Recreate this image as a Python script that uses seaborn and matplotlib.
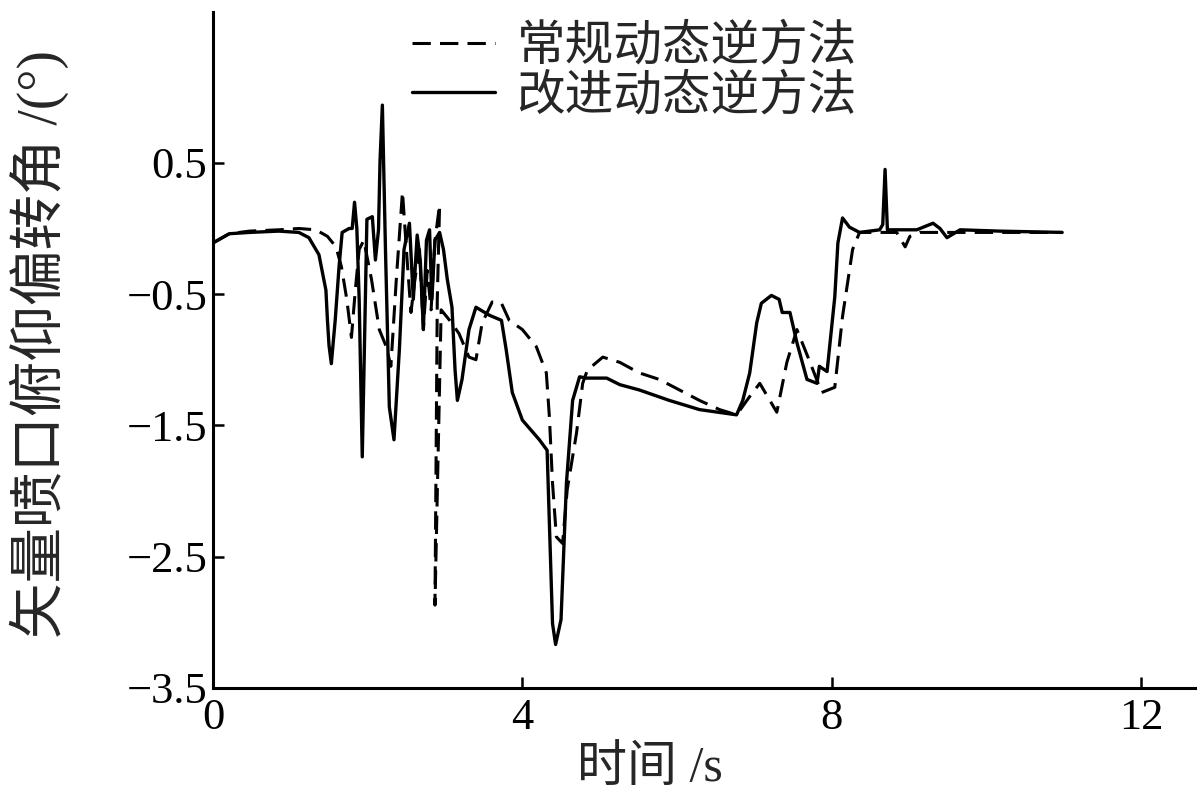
import matplotlib
matplotlib.use('Agg')
from matplotlib import pyplot as plt
import seaborn as sns
import pandas as pd

# time (s) and nozzle pitch deflection angle (deg)
# conventional dynamic inversion (dashed)
t_conv = [0.00, 0.21, 0.47, 0.85, 1.11, 1.33, 1.48, 1.59, 1.66, 1.73,
          1.79, 1.84, 1.89, 1.95, 2.05, 2.15, 2.24, 2.30, 2.37, 2.45,
          2.51, 2.56, 2.61, 2.67, 2.72, 2.77, 2.82, 2.87, 2.93, 2.90,
          2.87, 2.95, 3.06, 3.18, 3.31, 3.40, 3.48, 3.61, 3.73, 3.83,
          4.00, 4.18, 4.31, 4.35, 4.39, 4.44, 4.52, 4.58, 4.70, 4.78,
          4.84, 5.04, 5.26, 5.51, 5.77, 6.29, 6.55, 6.77, 6.94, 7.07,
          7.29, 7.42, 7.55, 7.72, 7.87, 8.04, 8.14, 8.27, 8.36, 8.84,
          8.95, 9.01, 9.14, 10.17, 10.98]
a_conv = [-0.11, -0.04, -0.02, -0.01, 0.00, -0.01, -0.06, -0.14, -0.29, -0.54,
          -0.83, -0.47, -0.16, -0.09, -0.39, -0.77, -0.90, -1.05, -0.39, 0.28,
          -0.24, -0.64, -0.39, -0.16, -0.77, -0.32, -0.62, -0.09, 0.18, -0.54,
          -2.87, -0.62, -0.70, -0.80, -0.98, -1.00, -0.72, -0.56, -0.57, -0.70,
          -0.77, -0.90, -1.10, -1.44, -1.94, -2.35, -2.40, -1.99, -1.56, -1.18,
          -1.08, -0.98, -1.02, -1.10, -1.15, -1.31, -1.38, -1.42, -1.28, -1.18,
          -1.40, -1.02, -0.77, -1.02, -1.25, -1.21, -0.67, -0.16, -0.03, -0.03,
          -0.14, -0.06, -0.03, -0.03, -0.03]

# improved dynamic inversion (solid)
t_impr = [0.00, 0.21, 0.47, 0.85, 1.11, 1.24, 1.37, 1.46, 1.48, 1.50,
          1.53, 1.58, 1.63, 1.67, 1.76, 1.80, 1.83, 1.86, 1.89, 1.93,
          1.97, 1.99, 2.06, 2.10, 2.14, 2.16, 2.19, 2.23, 2.28, 2.34,
          2.41, 2.47, 2.54, 2.59, 2.64, 2.68, 2.72, 2.76, 2.80, 2.83,
          2.87, 2.93, 2.98, 3.03, 3.09, 3.13, 3.16, 3.22, 3.31, 3.40,
          3.57, 3.73, 3.79, 3.87, 4.00, 4.22, 4.32, 4.39, 4.43, 4.50,
          4.57, 4.65, 4.74, 4.83, 5.09, 5.26, 5.51, 5.90, 6.29, 6.77,
          6.85, 6.94, 7.03, 7.09, 7.22, 7.32, 7.36, 7.46, 7.55, 7.68,
          7.81, 7.84, 7.94, 8.04, 8.08, 8.14, 8.23, 8.36, 8.62, 8.66,
          8.69, 8.72, 9.10, 9.31, 9.40, 9.49, 9.66, 10.17, 10.98]
a_impr = [-0.11, -0.04, -0.03, -0.02, -0.03, -0.07, -0.20, -0.47, -0.70, -0.89,
          -1.03, -0.70, -0.29, -0.03, 0.00, 0.00, 0.20, 0.00, -0.54, -1.74,
          -0.54, 0.07, 0.09, -0.24, -0.01, 0.52, 0.94, -0.16, -1.36, -1.61,
          -0.92, -0.16, 0.04, -0.54, -0.05, -0.24, -0.77, -0.09, -0.01, -0.54,
          -0.09, -0.03, -0.16, -0.39, -0.60, -1.08, -1.31, -1.15, -0.77, -0.60,
          -0.66, -0.70, -0.92, -1.25, -1.46, -1.61, -1.69, -3.01, -3.17, -2.98,
          -1.94, -1.31, -1.13, -1.14, -1.14, -1.19, -1.23, -1.31, -1.38, -1.42,
          -1.31, -1.10, -0.72, -0.57, -0.51, -0.54, -0.64, -0.64, -0.87, -1.15,
          -1.18, -1.05, -1.09, -0.52, -0.11, 0.08, 0.01, -0.03, -0.01, 0.03,
          0.45, -0.01, -0.01, 0.04, 0.00, -0.07, -0.01, -0.02, -0.03]

x_ticks = [0, 4, 8, 12]
y_ticks = [0.5, -0.5, -1.5, -2.5, -3.5]

conv = pd.DataFrame({'t': t_conv, 'a': a_conv})
impr = pd.DataFrame({'t': t_impr, 'a': a_impr})

sns.set_style('ticks')
plt.rcParams['font.family'] = ['Liberation Serif', 'Noto Sans CJK SC']
plt.rcParams['axes.unicode_minus'] = True

fig = plt.figure(figsize=(12, 7.97), dpi=100)
ax = fig.add_axes([0.1775, 0.137, 0.8185, 0.848])

sns.lineplot(data=conv, x='t', y='a', ax=ax, sort=False, estimator=None,
             color='black', linewidth=2.2, linestyle=(0, (6, 3)),
             label='常规动态逆方法')
sns.lineplot(data=impr, x='t', y='a', ax=ax, sort=False, estimator=None,
             color='black', linewidth=2.4, label='改进动态逆方法')

ax.set_xlim(0, 12.7)
ax.set_ylim(-3.5, 1.65)
ax.set_xticks(x_ticks)
ax.set_yticks(y_ticks)
ax.tick_params(direction='in', length=8, width=1.8, labelsize=32, pad=4,
               colors='black')
ax.tick_params(axis='x', pad=7)
for s in ['top', 'right']:
    ax.spines[s].set_visible(False)
for s in ['left', 'bottom']:
    ax.spines[s].set_linewidth(2.2)
    ax.spines[s].set_color('black')

ax.set_xlabel('时间 /s', fontsize=36)
ax.set_ylabel('矢量喷口俯仰偏转角 /(°)', fontsize=40)
ax.xaxis.set_label_coords(0.445, -0.086)
ax.yaxis.set_label_coords(-0.147, 0.508)

ax.legend(loc='upper left', bbox_to_anchor=(412 / 1200, 1 - 24 / 797),
          bbox_transform=fig.transFigure, frameon=False, fontsize=35,
          handlelength=1.7, handletextpad=0.45, labelspacing=0.08,
          borderpad=0, borderaxespad=0)

fig.savefig('out.png', dpi=100)
